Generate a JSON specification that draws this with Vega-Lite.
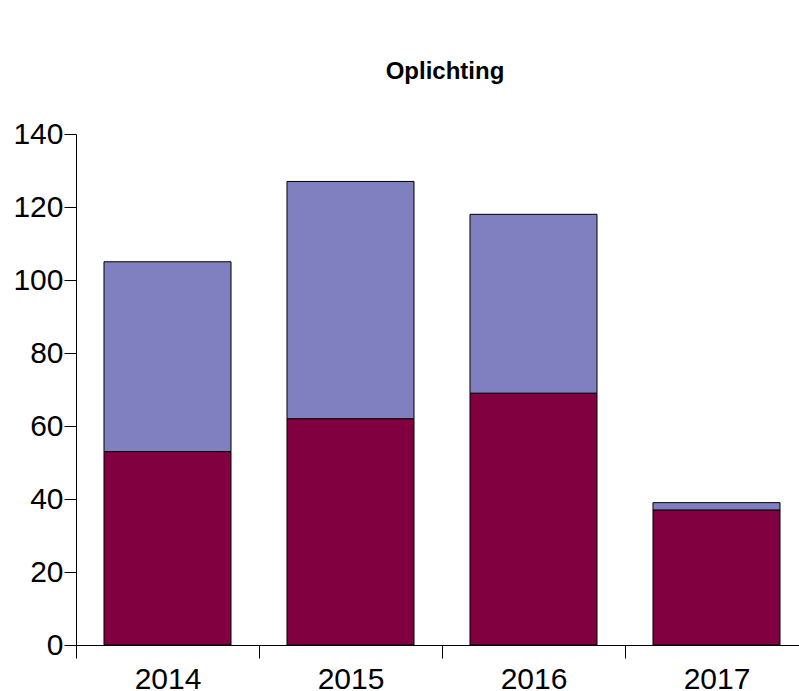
{
  "$schema": "https://vega.github.io/schema/vega-lite/v6.json",
  "width": 732,
  "height": 511,
  "autosize": {"type": "none"},
  "padding": {"left": 76, "top": 134, "right": 0, "bottom": 46},
  "background": "white",
  "title": {"text": "Oplichting", "font": "Liberation Sans", "fontSize": 24, "fontWeight": "bold", "color": "black", "offset": 35, "dx": 3, "anchor": "middle"},
  "data": {"values": [
    {"jaar": "2014", "reeks": "A", "volgorde": 1, "aantal": 53},
    {"jaar": "2014", "reeks": "B", "volgorde": 2, "aantal": 52},
    {"jaar": "2015", "reeks": "A", "volgorde": 1, "aantal": 62},
    {"jaar": "2015", "reeks": "B", "volgorde": 2, "aantal": 65},
    {"jaar": "2016", "reeks": "A", "volgorde": 1, "aantal": 69},
    {"jaar": "2016", "reeks": "B", "volgorde": 2, "aantal": 49},
    {"jaar": "2017", "reeks": "A", "volgorde": 1, "aantal": 37},
    {"jaar": "2017", "reeks": "B", "volgorde": 2, "aantal": 2}
  ]},
  "mark": {"type": "bar", "stroke": "black", "strokeWidth": 1, "width": {"band": 0.694}},
  "encoding": {
    "x": {"field": "jaar", "type": "nominal", "title": null,
      "scale": {"paddingInner": 0, "paddingOuter": 0},
      "axis": {"labelAngle": 0, "labelFont": "Liberation Sans", "labelFontSize": 30, "labelColor": "black", "labelPadding": 6, "tickSize": 13, "tickBand": "extent", "tickColor": "black", "domainColor": "black", "grid": false}},
    "y": {"field": "aantal", "type": "quantitative", "aggregate": "sum", "stack": "zero", "title": null,
      "scale": {"domain": [0, 140], "nice": false},
      "axis": {"values": [0, 20, 40, 60, 80, 100, 120, 140], "labelFont": "Liberation Sans", "labelFontSize": 30, "labelColor": "black", "labelPadding": 1, "tickSize": 12, "tickColor": "black", "domainColor": "black", "grid": false}},
    "color": {"field": "reeks", "type": "nominal", "legend": null,
      "scale": {"domain": ["A", "B"], "range": ["#800040", "#8080C0"]}},
    "order": {"field": "volgorde", "type": "quantitative", "sort": "ascending"}
  },
  "config": {"view": {"stroke": null}}
}
